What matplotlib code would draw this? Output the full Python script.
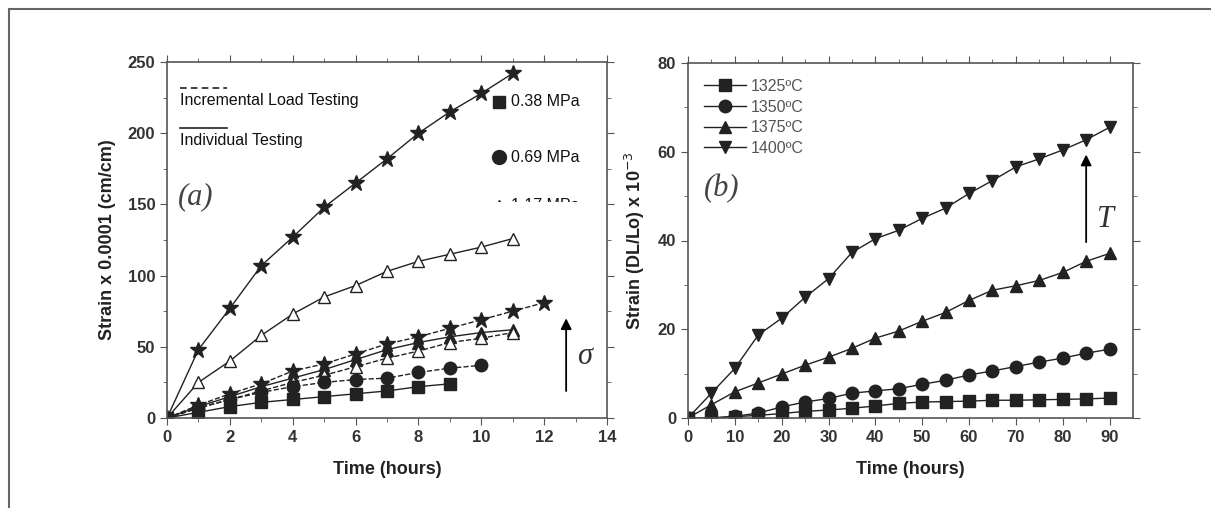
import matplotlib.pyplot as plt
from matplotlib.patches import Rectangle
from matplotlib.lines import Line2D

plt.rcParams['font.family'] = ['Liberation Sans', 'DejaVu Sans']

# (a) strain x 0.0001 vs time, individual (solid) and incremental load (dashed)
t_star_ind = [0, 1, 2, 3, 4, 5, 6, 7, 8, 9, 10, 11]
star_ind = [0, 48, 77, 107, 127, 148, 165, 182, 200, 215, 228, 242]
t_tri_ind = [0, 1, 2, 3, 4, 5, 6, 7, 8, 9, 10, 11]
tri_ind = [0, 25, 40, 58, 73, 85, 93, 103, 110, 115, 120, 126]
t_ftri_ind = [0, 1, 2, 3, 4, 5, 6, 7, 8, 9, 10, 11]
ftri_ind = [0, 8, 15, 22, 28, 34, 41, 48, 53, 57, 60, 62]
t_sq_ind = [0, 1, 2, 3, 4, 5, 6, 7, 8, 9]
sq_ind = [0, 4, 8, 11, 13, 15, 17, 19, 22, 24]

t_star_inc = [0, 1, 2, 3, 4, 5, 6, 7, 8, 9, 10, 11, 12]
star_inc = [0, 9, 17, 24, 33, 38, 45, 52, 57, 63, 69, 75, 81]
t_tri_inc = [0, 1, 2, 3, 4, 5, 6, 7, 8, 9, 10, 11]
tri_inc = [0, 7, 13, 19, 25, 30, 36, 42, 47, 53, 56, 60]
t_circ_inc = [0, 1, 2, 3, 4, 5, 6, 7, 8, 9, 10]
circ_inc = [0, 7, 13, 18, 22, 25, 27, 28, 32, 35, 37]

# (b) strain (DL/Lo) x 10^-3 vs time at four temperatures
hours = [0, 5, 10, 15, 20, 25, 30, 35, 40, 45, 50, 55, 60, 65, 70, 75, 80, 85, 90]
s1325 = [0, 0, 0.3, 0.6, 1.0, 1.5, 1.8, 2.2, 2.7, 3.3, 3.6, 3.7, 3.8, 4.0, 4.0, 4.1, 4.2, 4.3, 4.5]
s1350 = [0, 0, 0.4, 1.1, 2.5, 3.6, 4.4, 5.6, 6.1, 6.6, 7.6, 8.5, 9.7, 10.6, 11.6, 12.6, 13.5, 14.6, 15.5]
s1375 = [0, 3.0, 5.9, 7.9, 9.9, 11.9, 13.7, 15.7, 18.0, 19.6, 21.8, 23.8, 26.5, 28.8, 29.8, 31.0, 32.8, 35.3, 37.1]
s1400 = [0, 5.6, 11.2, 18.7, 22.5, 27.2, 31.4, 37.3, 40.4, 42.3, 45.0, 47.3, 50.6, 53.5, 56.6, 58.4, 60.4, 62.7, 65.5]
temps = ['1325ºC', '1350ºC', '1375ºC', '1400ºC']

W, H = 1211, 508
fig = plt.figure(figsize=(W / 100, H / 100), dpi=100)

# outer frame
fig.add_artist(Rectangle((9 / W, -0.1), 1.2, (H - 9) / H + 0.1, transform=fig.transFigure,
                         fill=False, edgecolor='#666666', linewidth=1.5))

def px_axes(l, r, top, bot):
    return fig.add_axes([l / W, (H - bot) / H, (r - l) / W, (bot - top) / H])

def style(ax):
    for s in ax.spines.values():
        s.set_color('#555555')
        s.set_linewidth(1.2)
    ax.tick_params(which='both', direction='out', color='#555555')
    ax.tick_params(which='both', top=True, right=True)
    ax.tick_params(which='major', length=5, labelsize=12)
    ax.tick_params(which='minor', length=3)
    for lb in ax.get_xticklabels() + ax.get_yticklabels():
        lb.set_fontweight('bold')
        lb.set_color('#333333')

lw = 1.0
k = '#222222'
serif = ['Liberation Serif', 'DejaVu Serif']

ax1 = px_axes(167, 607, 62, 418)
ax1.plot(t_star_ind, star_ind, '-', color=k, lw=lw, marker='*', ms=12)
ax1.plot(t_tri_ind, tri_ind, '-', color=k, lw=lw, marker='^', ms=9, mfc='white')
ax1.plot(t_ftri_ind, ftri_ind, '-', color=k, lw=lw, marker='^', ms=9)
ax1.plot(t_sq_ind, sq_ind, '-', color=k, lw=lw, marker='s', ms=8)
ax1.plot(t_star_inc, star_inc, '--', color=k, lw=lw, marker='*', ms=12)
ax1.plot(t_tri_inc, tri_inc, '--', color=k, lw=lw, marker='^', ms=9, mfc='white')
ax1.plot(t_circ_inc, circ_inc, '--', color=k, lw=lw, marker='o', ms=9)
ax1.set_xlim(0, 14)
ax1.set_ylim(0, 250)
ax1.set_xticks(range(0, 15, 2))
ax1.set_xticks(range(1, 14, 2), minor=True)
ax1.set_yticks(range(0, 251, 50))
ax1.set_yticks(range(25, 250, 50), minor=True)
style(ax1)
ax1.set_xlabel('Time (hours)', fontsize=13, fontweight='bold', color='#222222', labelpad=12)
ax1.set_ylabel('Strain x 0.0001 (cm/cm)', fontsize=13, fontweight='bold', color='#222222', labelpad=8)

# line-style key
ax1.add_line(Line2D([0.4, 1.9], [232, 232], ls=(0, (4, 2.5)), color=k, lw=1.2))
ax1.text(0.4, 228, 'Incremental Load Testing', fontsize=11.5, va='top', color='#111111')
ax1.add_line(Line2D([0.4, 1.9], [204, 204], ls='-', color=k, lw=1.2))
ax1.text(0.4, 200, 'Individual Testing', fontsize=11.5, va='top', color='#111111')

# stress key (third entry half hidden)
ax1.plot([10.55], [222], 's', color=k, ms=9, clip_on=False)
ax1.text(10.95, 222, '0.38 MPa', fontsize=11.5, va='center', color='#111111')
ax1.plot([10.55], [183], 'o', color=k, ms=10, clip_on=False)
ax1.text(10.95, 183, '0.69 MPa', fontsize=11.5, va='center', color='#111111')
ax1.plot([10.55], [149], '^', color=k, ms=9)
ax1.text(10.95, 149, '1.17 MPa', fontsize=11.5, va='center', color='#111111')
ax1.add_patch(Rectangle((10.2, 133), 3.7, 18.5, facecolor='white', edgecolor='none', zorder=5))

ax1.text(0.35, 150, '(a)', fontsize=22, family=serif, style='italic', color='#444444')
ax1.annotate('', xy=(12.7, 72), xytext=(12.7, 17),
             arrowprops=dict(arrowstyle='-|>', color='black', lw=1.3, mutation_scale=16))
ax1.text(13.05, 38, 'σ', fontsize=22, family=serif, style='italic', color='#333333')

ax2 = px_axes(688, 1133, 63, 418)
ax2.plot(hours, s1325, '-', color=k, lw=lw, marker='s', ms=8, label=temps[0])
ax2.plot(hours, s1350, '-', color=k, lw=lw, marker='o', ms=9, label=temps[1])
ax2.plot(hours, s1375, '-', color=k, lw=lw, marker='^', ms=9, label=temps[2])
ax2.plot(hours, s1400, '-', color=k, lw=lw, marker='v', ms=9, label=temps[3])
ax2.set_xlim(0, 95)
ax2.set_ylim(0, 80)
ax2.set_xticks(range(0, 91, 10))
ax2.set_xticks(range(5, 95, 10), minor=True)
ax2.set_yticks(range(0, 81, 20))
ax2.set_yticks(range(10, 80, 20), minor=True)
style(ax2)
ax2.set_xlabel('Time (hours)', fontsize=13, fontweight='bold', color='#222222', labelpad=12)
ax2.set_ylabel(r'Strain (DL/Lo) x 10$^{-3}$', fontsize=13, fontweight='bold', color='#222222', labelpad=8)
leg = ax2.legend(loc='upper left', frameon=False, fontsize=11.5, handlelength=2.6,
                 labelspacing=0.35, borderaxespad=0.6, handletextpad=0.3)
for txt in leg.get_texts():
    txt.set_color('#555555')

ax2.text(3.5, 50, '(b)', fontsize=22, family=serif, style='italic', color='#444444')
ax2.annotate('', xy=(85, 60), xytext=(85, 39),
             arrowprops=dict(arrowstyle='-|>', color='black', lw=1.3, mutation_scale=16))
ax2.text(87.3, 43, 'T', fontsize=22, family=serif, style='italic', color='#333333')

fig.savefig('out.png', dpi=100)
